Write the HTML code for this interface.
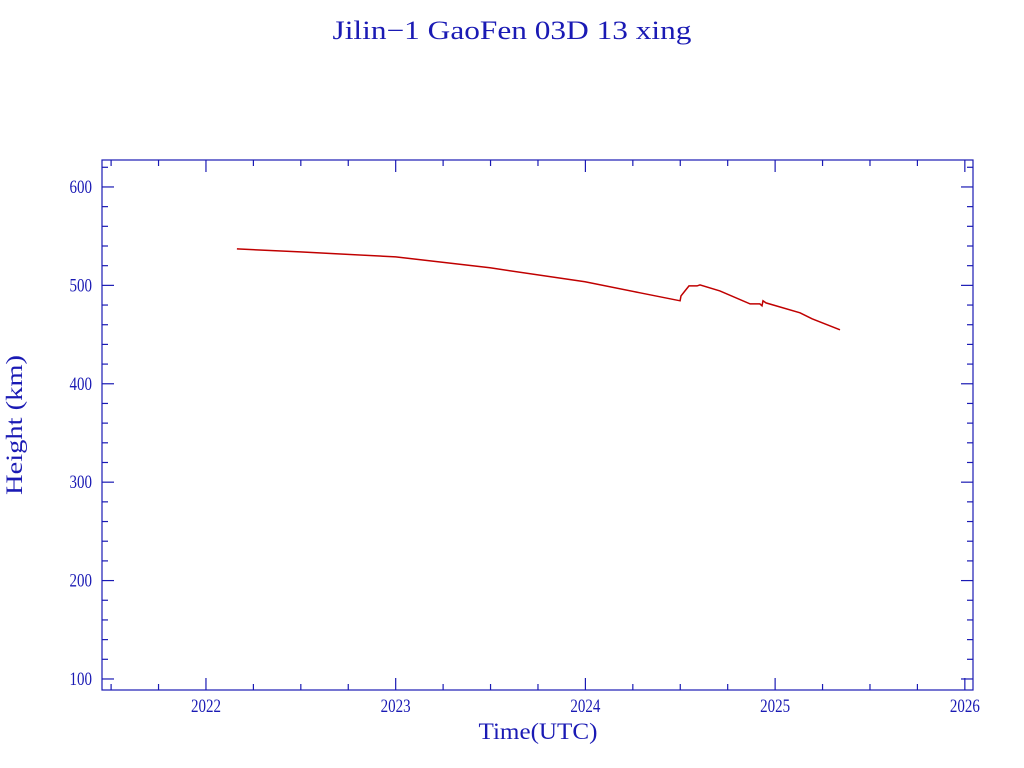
<!DOCTYPE html>
<html><head><meta charset="utf-8"><style>
html,body{margin:0;padding:0;background:#fff;}
svg{display:block;font-family:"Liberation Serif","DejaVu Serif",serif;}
</style></head><body>
<svg id="chart" width="1024" height="768" viewBox="0 0 1024 768" xmlns="http://www.w3.org/2000/svg">
<text x="512" y="39" text-anchor="middle" font-size="26" fill="#1a1ab4" textLength="359" lengthAdjust="spacingAndGlyphs">Jilin−1 GaoFen 03D 13 xing</text>
<rect x="102" y="160" width="871" height="530" fill="none" stroke="#1a1ab4" stroke-width="1.2"/>
<g id="axes"></g>
<polyline id="series" fill="none" stroke="#c00000" stroke-width="1.5"/>
<text x="538" y="739" text-anchor="middle" font-size="23" fill="#1a1ab4" textLength="119" lengthAdjust="spacingAndGlyphs">Time(UTC)</text>
<text transform="translate(22,425) rotate(-90)" text-anchor="middle" font-size="23" fill="#1a1ab4" textLength="140" lengthAdjust="spacingAndGlyphs">Height (km)</text>
</svg>
<script>
const times = [2022.163,2022.496,2023.0,2023.497,2023.998,2024.288,2024.499,2024.504,2024.525,2024.546,2024.588,2024.604,2024.709,2024.868,2024.920,2024.931,2024.936,2024.952,2025.131,2025.195,2025.342];
const heights = [537.1,534.0,528.9,517.8,503.6,492.4,484.3,489.3,494.4,499.5,499.5,500.5,494.4,481.2,481.2,479.2,484.3,482.2,472.1,466.0,454.8];
const xTicks = [2022,2023,2024,2025,2026];
const yTicks = [100,200,300,400,500,600];
const NS="http://www.w3.org/2000/svg";
const L=102,R=973,T=160,B=690;
const xMin=2021.452,xMax=2026.043,yMin=88.8,yMax=627.4;
const sx=v=>L+(v-xMin)/(xMax-xMin)*(R-L);
const sy=v=>B-(v-yMin)/(yMax-yMin)*(B-T);
const ax=document.getElementById('axes');
function line(x1,y1,x2,y2,name){const l=document.createElementNS(NS,'line');
l.setAttribute('x1',x1);l.setAttribute('y1',y1);l.setAttribute('x2',x2);l.setAttribute('y2',y2);
l.setAttribute('stroke','#1a1ab4');l.setAttribute('stroke-width','1.2');


ax.appendChild(l);}
function text(x,y,s,anchor,name){const t=document.createElementNS(NS,'text');
t.setAttribute('x',x);t.setAttribute('y',y);t.setAttribute('text-anchor',anchor);
t.setAttribute('font-size','19');t.setAttribute('fill','#1a1ab4');t.textContent=s;
t.setAttribute('textLength',String(s.length*7.5));
t.setAttribute('lengthAdjust','spacingAndGlyphs');


ax.appendChild(t);}
for(let q=Math.ceil(xMin*4);q<=Math.floor(xMax*4);q++){const v=q/4,x=sx(v),maj=q%4===0,len=maj?12:6;
line(x,B,x,B-len,'x-tick');line(x,T,x,T+len,'x-tick');}
xTicks.forEach(v=>text(sx(v),712,String(v),'middle','x-tick-label'));
for(let v=100;v<=620;v+=20){const y=sy(v),maj=v%100===0,len=maj?12:6;
line(L,y,L+len,y,'y-tick');line(R,y,R-len,y,'y-tick');}
yTicks.forEach(v=>text(92,sy(v)+6,String(v),'end','y-tick-label'));
document.getElementById('series').setAttribute('points',times.map((t,i)=>sx(t).toFixed(1)+','+sy(heights[i]).toFixed(1)).join(' '));
</script>
</body></html>
